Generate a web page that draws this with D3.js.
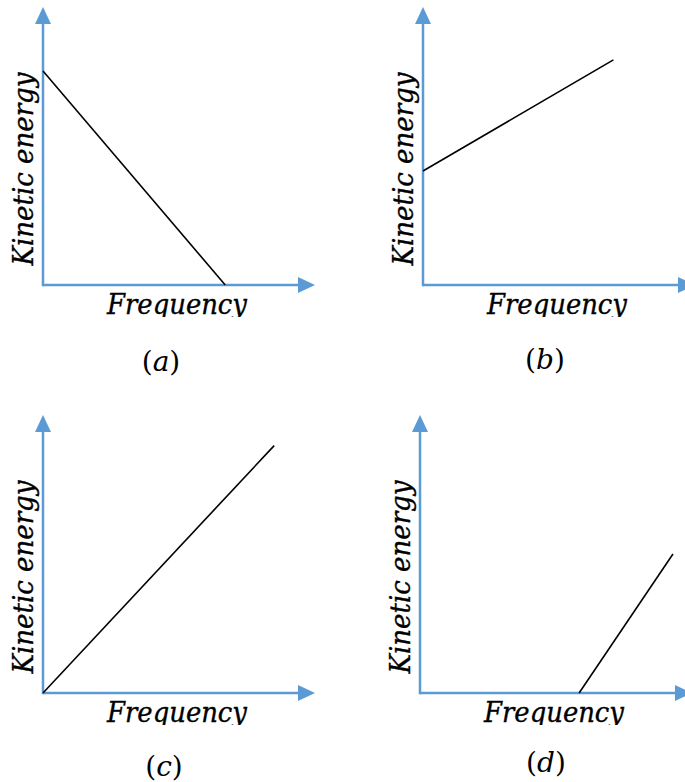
<!DOCTYPE html>
<html>
<head>
<meta charset="utf-8">
<script src="https://cdn.jsdelivr.net/npm/d3@7"></script>
<style>
  html, body { margin: 0; padding: 0; background: #fff; }
  svg { display: block; }
</style>
</head>
<body>
<svg id="chart" width="685" height="782"></svg>
<script>
// ---- data ----
const panelIds = ["a", "b", "c", "d"];
const xTitle = "Frequency";
const yTitle = "Kinetic energy";
// line endpoints per panel, in axis units (0..10)
const frequency     = [[0, 6.7], [0, 7.0], [0, 8.5], [5.85, 9.3]];
const kineticEnergy = [[7.7, 0], [4.1, 8.1], [0, 8.9], [0, 5.0]];

// ---- layout ----
const origins  = [[43, 285], [423, 285], [43, 693], [420, 693]];
const captions = [[161, 371], [545, 369], [164, 776], [546, 772]];
const xLen = 272, yLen = 278;
const axisColor = "#5B9BD5";
const arrowL = 17, arrowW = 8;
const serif = "'DejaVu Serif', serif";

const svg = d3.select("#chart");
const defs = svg.append("defs");

panelIds.forEach((id, i) => {
  const [ox, oy] = origins[i];
  const x = d3.scaleLinear().domain([0, 10]).range([ox, ox + xLen]);
  const y = d3.scaleLinear().domain([0, 10]).range([oy, oy - yLen]);
  const g = svg.append("g").attr("class", "panel-" + id);

  // axes
  g.append("line")
    .attr("x1", x(0)).attr("y1", y(0))
    .attr("x2", x(10) - arrowL + 2).attr("y2", y(0))
    .attr("stroke", axisColor).attr("stroke-width", 2.5);
  g.append("line")
    .attr("x1", x(0)).attr("y1", y(0) + 1.25)
    .attr("x2", x(0)).attr("y2", y(10) + arrowL - 2)
    .attr("stroke", axisColor).attr("stroke-width", 2.5);
  g.append("path")
    .attr("d", `M${x(10)},${y(0)} L${x(10) - arrowL},${y(0) - arrowW} L${x(10) - arrowL},${y(0) + arrowW} Z`)
    .attr("fill", axisColor);
  g.append("path")
    .attr("d", `M${x(0)},${y(10)} L${x(0) - arrowW},${y(10) + arrowL} L${x(0) + arrowW},${y(10) + arrowL} Z`)
    .attr("fill", axisColor);

  // data line
  const pts = frequency[i].map((f, k) => [f, kineticEnergy[i][k]]);
  g.append("path")
    .attr("d", d3.line().x(d => x(d[0])).y(d => y(d[1]))(pts))
    .attr("fill", "none")
    .attr("stroke", "#000")
    .attr("stroke-width", 1.6);

  // x title (clipped at bottom like the reference)
  const clipId = "clip-" + id;
  defs.append("clipPath").attr("id", clipId)
    .append("rect")
    .attr("x", ox + 40).attr("y", oy + 5)
    .attr("width", 240).attr("height", 27);
  g.append("text")
    .attr("clip-path", `url(#${clipId})`)
    .attr("x", ox + 64).attr("y", oy + 29)
    .attr("font-family", serif).attr("font-style", "italic")
    .attr("font-size", 27)
    .attr("textLength", 140).attr("lengthAdjust", "spacingAndGlyphs")
    .attr("fill", "#000").attr("stroke", "#000").attr("stroke-width", 0.35)
    .text(xTitle);

  // y title
  g.append("text")
    .attr("transform", `translate(${ox - 10},${oy - 116}) rotate(-90)`)
    .attr("text-anchor", "middle")
    .attr("font-family", serif).attr("font-style", "italic")
    .attr("font-size", 27)
    .attr("textLength", 193).attr("lengthAdjust", "spacingAndGlyphs")
    .attr("fill", "#000").attr("stroke", "#000").attr("stroke-width", 0.35)
    .text(yTitle);

  // caption
  const cap = g.append("text")
    .attr("x", captions[i][0]).attr("y", captions[i][1])
    .attr("text-anchor", "middle")
    .attr("font-family", serif).attr("font-size", 28)
    .attr("fill", "#000");
  cap.append("tspan").text("(");
  cap.append("tspan").attr("font-style", "italic").text(id);
  cap.append("tspan").text(")");
});
</script>
</body>
</html>
